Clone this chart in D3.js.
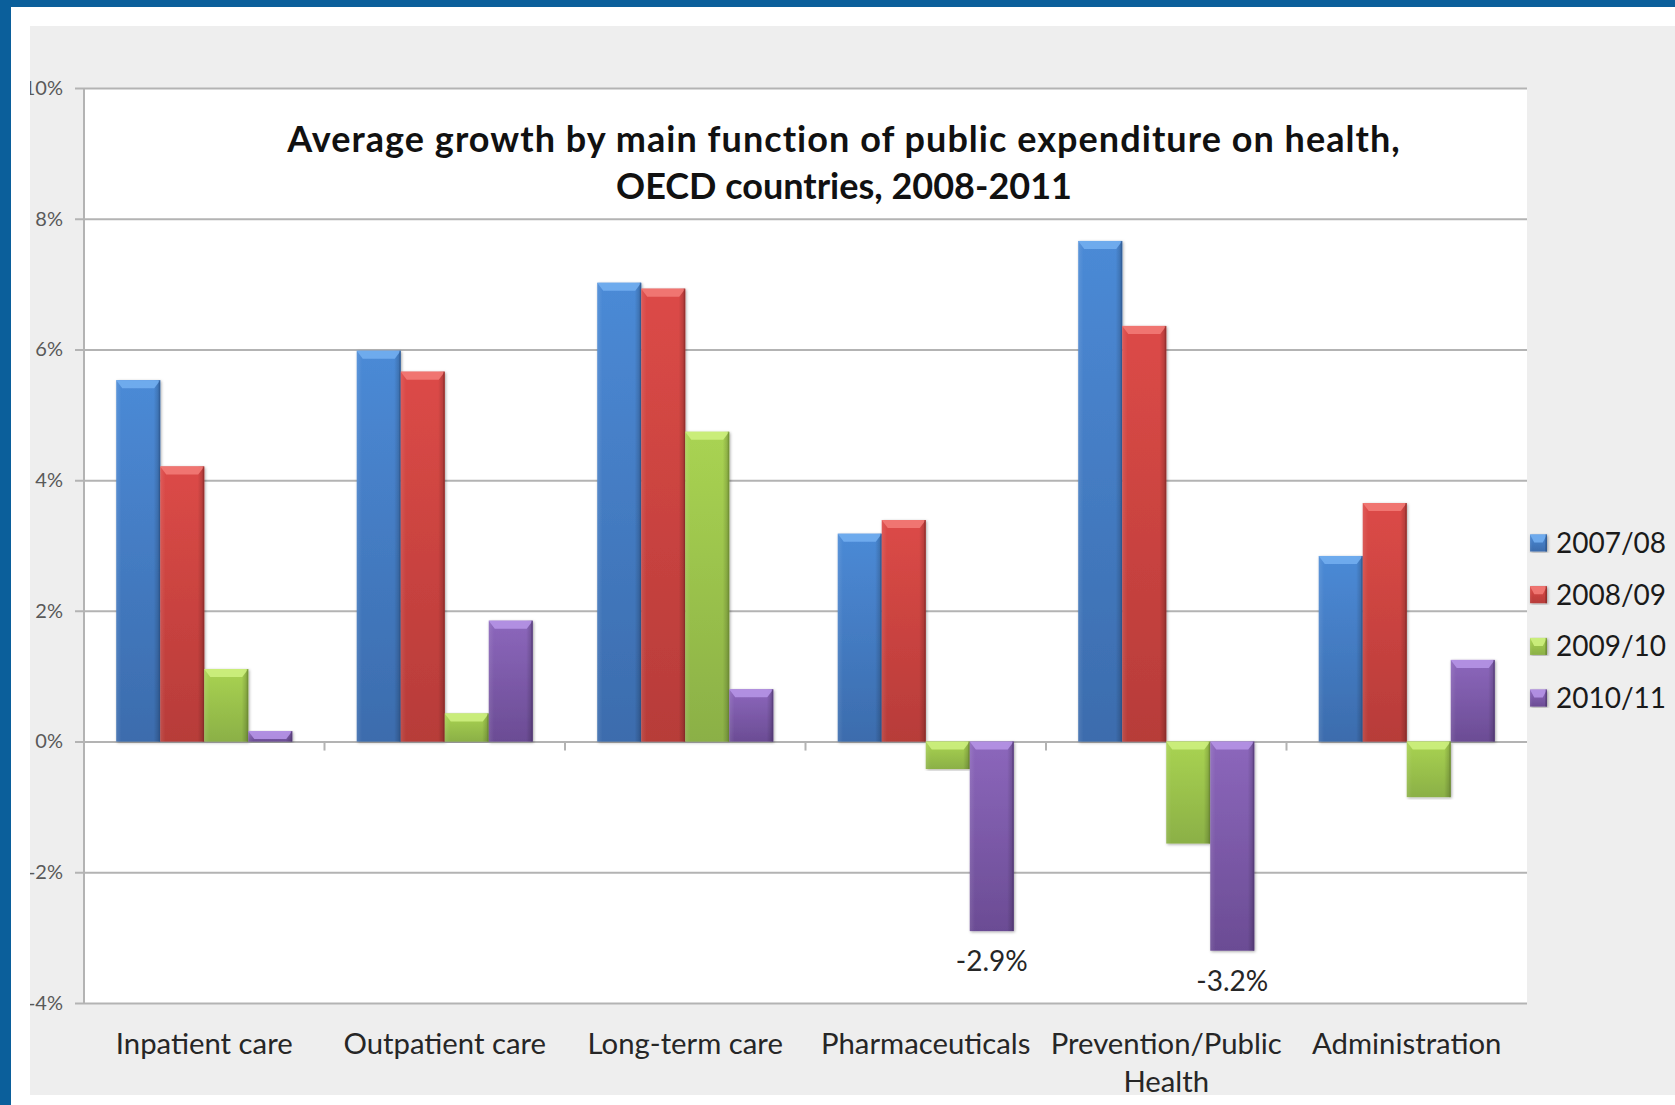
<!DOCTYPE html>
<html>
<head>
<meta charset="utf-8">
<script src="https://cdn.jsdelivr.net/npm/d3@7"></script>
<style>
  html, body { margin: 0; padding: 0; background: #ffffff; }
  svg { display: block; font-family: Lato, "Open Sans", "DejaVu Sans", sans-serif; }
</style>
</head>
<body>
<svg id="chart" width="1675" height="1105"></svg>
<script>
// Chart data: average growth of public health expenditure by function (%)
const categories = ["Inpatient care", "Outpatient care", "Long-term care", "Pharmaceuticals", "Prevention/Public Health", "Administration"];
const seriesNames = ["2007/08", "2008/09", "2009/10", "2010/11"];
const growth0708 = [5.53, 5.98, 7.02, 3.18, 7.66, 2.84];
const growth0809 = [4.21, 5.66, 6.93, 3.39, 6.36, 3.65];
const growth0910 = [1.11, 0.43, 4.74, -0.42, -1.56, -0.85];
const growth1011 = [0.16, 1.85, 0.80, -2.9, -3.2, 1.25];
const yTicks = [-4, -2, 0, 2, 4, 6, 8, 10];
// values that carry a printed label: [category, series]
const labelled = [["Pharmaceuticals", "2010/11"], ["Prevention/Public Health", "2010/11"]];

const seriesValues = [growth0708, growth0809, growth0910, growth1011];

// Bar styling per series (vertical gradient, bevel cap, edge)
const palette = {
  "2007/08": { top: "#4b8ad6", bottom: "#3c6cad", cap: "#72aef0", edge: "#2e5891" },
  "2008/09": { top: "#dc4a47", bottom: "#b73c39", cap: "#f27a76", edge: "#8c2b29" },
  "2009/10": { top: "#a9d352", bottom: "#8bb046", cap: "#cdef7e", edge: "#6c8a33" },
  "2010/11": { top: "#8c67bc", bottom: "#6b4c94", cap: "#b593e6", edge: "#523974" }
};

const svg = d3.select("#chart");
const W = 1675, H = 1105;
const plot = { left: 84, right: 1527, top: 88, bottom: 1003 };

// Frame: blue page border and grey chart panel
svg.append("rect").attr("x", 0).attr("y", 0).attr("width", W).attr("height", H).attr("fill", "#ffffff");
svg.append("rect").attr("x", 0).attr("y", 0).attr("width", W).attr("height", 7).attr("fill", "#0b5f9b");
svg.append("rect").attr("x", 0).attr("y", 0).attr("width", 11).attr("height", H).attr("fill", "#0b5f9b");

const defs = svg.append("defs");
defs.append("clipPath").attr("id", "panelClip")
  .append("rect").attr("x", 30).attr("y", 26).attr("width", W - 30).attr("height", 1069);

seriesNames.forEach((s, i) => {
  const g = defs.append("linearGradient").attr("id", "grad" + i)
    .attr("x1", 0).attr("y1", 0).attr("x2", 0).attr("y2", 1);
  g.append("stop").attr("offset", "0%").attr("stop-color", palette[s].top);
  g.append("stop").attr("offset", "100%").attr("stop-color", palette[s].bottom);
});
const hg = defs.append("linearGradient").attr("id", "sideShade").attr("x1", 0).attr("y1", 0).attr("x2", 1).attr("y2", 0);
hg.append("stop").attr("offset", "0%").attr("stop-color", "#ffffff").attr("stop-opacity", 0.10);
hg.append("stop").attr("offset", "12%").attr("stop-color", "#ffffff").attr("stop-opacity", 0.0);
hg.append("stop").attr("offset", "85%").attr("stop-color", "#000000").attr("stop-opacity", 0.0);
hg.append("stop").attr("offset", "100%").attr("stop-color", "#000000").attr("stop-opacity", 0.22);

const shadow = defs.append("filter").attr("id", "barShadow")
  .attr("x", "-20%").attr("y", "-5%").attr("width", "140%").attr("height", "110%");
shadow.append("feDropShadow").attr("dx", 1).attr("dy", 1).attr("stdDeviation", 1.6)
  .attr("flood-color", "#000000").attr("flood-opacity", 0.35);

const root = svg.append("g").attr("clip-path", "url(#panelClip)");
root.append("rect").attr("x", 30).attr("y", 26).attr("width", W - 30).attr("height", 1069).attr("fill", "#eeeeee");
root.append("rect").attr("x", plot.left).attr("y", plot.top)
  .attr("width", plot.right - plot.left).attr("height", plot.bottom - plot.top).attr("fill", "#ffffff");

// Scales
const y = d3.scaleLinear().domain([-4, 10]).range([plot.bottom, plot.top]);
const x0 = d3.scaleBand().domain(categories).range([plot.left, plot.right])
  .paddingInner(0.268).paddingOuter(0.134);
const x1 = d3.scaleBand().domain(seriesNames).range([0, x0.bandwidth()]).padding(0);

// Gridlines and y axis
const yAxis = d3.axisLeft(y).tickValues(yTicks).tickFormat(d => d + "%")
  .tickSizeInner(-(plot.right - plot.left)).tickSizeOuter(0).tickPadding(21);
const ya = root.append("g").attr("transform", `translate(${plot.left},0)`).call(yAxis);
ya.select(".domain").remove();
ya.selectAll(".tick line").attr("x1", -9).attr("stroke", "#b3b3b3").attr("stroke-width", 2);
ya.selectAll(".tick text").attr("fill", "#595959").attr("font-size", 20)
  .attr("font-family", "Lato, sans-serif");
root.append("line").attr("x1", plot.left).attr("x2", plot.left)
  .attr("y1", plot.top).attr("y2", plot.bottom).attr("stroke", "#b3b3b3").attr("stroke-width", 2);

// Category separators below the zero line
const bounds = d3.range(1, categories.length).map(i => plot.left + x0.step() * i);
root.append("g").selectAll("line").data(bounds).join("line")
  .attr("x1", d => d).attr("x2", d => d)
  .attr("y1", y(0)).attr("y2", y(0) + 9)
  .attr("stroke", "#b3b3b3").attr("stroke-width", 2);

// Bars
const rows = [];
categories.forEach((c, ci) => {
  seriesNames.forEach((s, si) => rows.push({ cat: c, series: s, si: si, value: seriesValues[si][ci] }));
});

function drawBar(sel, x, top, w, h, si, s) {
  const g = sel.append("g");
  g.append("rect").attr("x", x).attr("y", top).attr("width", w).attr("height", h)
    .attr("fill", `url(#grad${si})`).attr("filter", "url(#barShadow)");
  g.append("rect").attr("x", x).attr("y", top).attr("width", w).attr("height", h)
    .attr("fill", "url(#sideShade)");
  const capH = Math.min(8, h);
  const inset = Math.min(6, w / 4);
  g.append("path")
    .attr("d", `M${x},${top} L${x + w},${top} L${x + w - inset},${top + capH} L${x + inset},${top + capH} Z`)
    .attr("fill", palette[s].cap).attr("opacity", 0.9);
  g.append("line").attr("x1", x + w - 0.75).attr("x2", x + w - 0.75)
    .attr("y1", top).attr("y2", top + h)
    .attr("stroke", palette[s].edge).attr("stroke-width", 1.5).attr("opacity", 0.6);
}

const barLayer = root.append("g");
rows.forEach(d => {
  const bx = x0(d.cat) + x1(d.series);
  const top = y(Math.max(0, d.value));
  const h = Math.abs(y(d.value) - y(0));
  drawBar(barLayer, bx, top, x1.bandwidth(), h, d.si, d.series);
});

// Value labels on the deepest declines
root.append("g").selectAll("text").data(labelled).join("text")
  .attr("x", d => x0(d[0]) + x1(d[1]) + x1.bandwidth() / 2)
  .attr("y", d => {
    const v = seriesValues[seriesNames.indexOf(d[1])][categories.indexOf(d[0])];
    return y(v) + 40;
  })
  .attr("text-anchor", "middle").attr("font-size", 28).attr("fill", "#262626")
  .text(d => {
    const v = seriesValues[seriesNames.indexOf(d[1])][categories.indexOf(d[0])];
    return v.toFixed(1) + "%";
  });

// Category labels, wrapped to the band step
const catLabels = root.append("g");
categories.forEach(c => {
  const t = catLabels.append("text")
    .attr("x", x0(c) + x0.bandwidth() / 2).attr("y", 1054)
    .attr("text-anchor", "middle").attr("font-size", 29.3).attr("fill", "#262626");
  const words = c.split(" ");
  let line = [];
  let tspan = t.append("tspan").attr("x", x0(c) + x0.bandwidth() / 2).attr("dy", 0);
  words.forEach(wd => {
    line.push(wd);
    tspan.text(line.join(" "));
    if (tspan.node().getComputedTextLength() > x0.step() - 4 && line.length > 1) {
      line.pop();
      tspan.text(line.join(" "));
      line = [wd];
      tspan = t.append("tspan").attr("x", x0(c) + x0.bandwidth() / 2).attr("dy", 38).text(wd);
    }
  });
});

// Title
const title = root.append("text").attr("x", 844).attr("text-anchor", "middle")
  .attr("font-weight", "bold").attr("font-size", 36).attr("fill", "#111111");
title.append("tspan").attr("x", 844).attr("y", 152).attr("letter-spacing", 1.05)
  .text("Average growth by main function of public expenditure on health,");
title.append("tspan").attr("x", 844).attr("y", 199).text("OECD countries, 2008-2011");

// Legend
const legend = root.append("g");
seriesNames.forEach((s, i) => {
  const ly = 543 + i * 51.7;
  drawBar(legend, 1530, ly - 8.5, 17, 17, i, s);
  legend.append("text").attr("x", 1556).attr("y", ly).attr("dy", "0.35em")
    .attr("font-size", 28).attr("fill", "#1a1a1a").text(s);
});
</script>
</body>
</html>
